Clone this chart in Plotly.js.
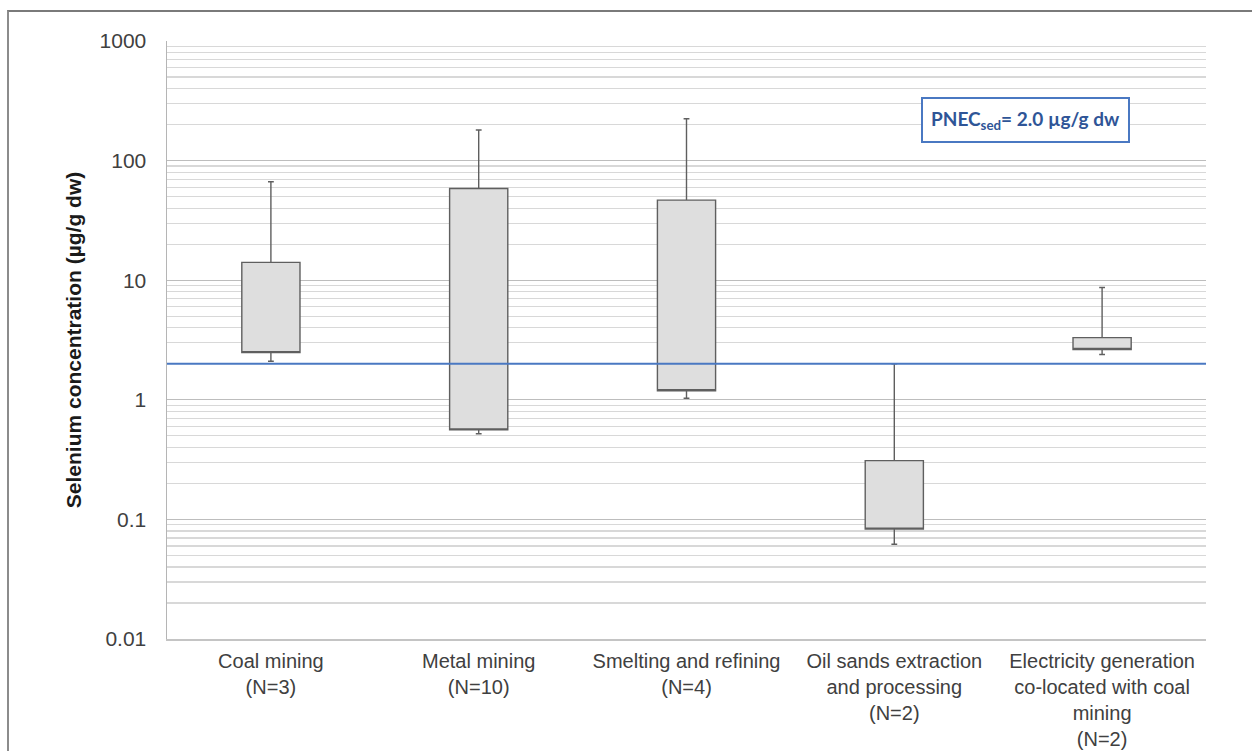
<!DOCTYPE html>
<html>
<head>
<meta charset="utf-8">
<script src="https://cdn.plot.ly/plotly-3.0.1.min.js"></script>
<style>
  html, body { margin: 0; padding: 0; background: #ffffff; }
  #chart { width: 1252px; height: 751px; }
  #frame { position: absolute; left: 7px; top: 10px; width: 1245px; height: 741px;
           border-left: 2px solid #8c8c8c; border-top: 2px solid #7a7a7a; pointer-events: none; box-sizing: border-box; }
</style>
</head>
<body>
<div id="chart"></div>
<div id="frame"></div>
<script>
// ---- Data ----
const categories = [
  'Coal mining<br>(N=3)',
  'Metal mining<br>(N=10)',
  'Smelting and refining<br>(N=4)',
  'Oil sands extraction<br>and processing<br>(N=2)',
  'Electricity generation<br>co-located with coal<br>mining<br>(N=2)'
];
const lowerWhisker = [2.1, 0.52, 1.03, 0.062, 2.39];
const q1Values     = [2.48, 0.56, 1.19, 0.083, 2.63];
const q3Values     = [14.1, 58.5, 46.7, 0.31, 3.31];
const upperWhisker = [66.5, 180, 224, 2.0, 8.7];

const pnecValue = 2.0;
const pnecLabel = '<b>PNEC<sub>sed</sub>= 2.0 µg/g dw</b>';

const yTickValues = [0.01, 0.1, 1, 10, 100, 1000];
const yTickLabels = ['0.01', '0.1', '1', '10', '100', '1000'];
const yAxisTitle = 'Selenium concentration (µg/g dw)';

// ---- Traces ----
const boxTrace = {
  type: 'box',
  x: categories,
  q1: q1Values,
  median: q1Values,
  q3: q3Values,
  lowerfence: lowerWhisker,
  upperfence: upperWhisker,
  boxpoints: false,
  whiskerwidth: 0.1,
  fillcolor: '#dedede',
  line: { color: '#5f5f5f', width: 1.4 },
  hoverinfo: 'skip',
  showlegend: false
};

const layout = {
  width: 1252,
  height: 751,
  margin: { l: 167, r: 46, t: 41, b: 112 },
  paper_bgcolor: '#ffffff',
  plot_bgcolor: '#ffffff',
  boxgap: 0.6,
  showlegend: false,
  font: { family: 'Liberation Sans, Arial, sans-serif', color: '#404040' },
  xaxis: {
    type: 'category',
    showgrid: false,
    zeroline: false,
    showline: true,
    linecolor: '#c4c4c4',
    linewidth: 1.5,
    ticks: '',
    ticklabelstandoff: 3,
    tickfont: { size: 20, color: '#404040' },
    fixedrange: true
  },
  yaxis: {
    type: 'log',
    range: [-2, 3],
    tickvals: yTickValues,
    ticktext: yTickLabels,
    tickfont: { size: 21, color: '#404040' },
    ticks: '',
    ticklabelstandoff: 15,
    showline: true,
    linecolor: '#b5b5b5',
    linewidth: 1.5,
    showgrid: true,
    gridcolor: '#bdbdbd',
    gridwidth: 1.2,
    zeroline: false,
    minor: { dtick: 'D1', showgrid: true, gridcolor: '#d8d8d8', gridwidth: 1.2, ticks: '' },
    title: { text: '<b>' + yAxisTitle + '</b>', font: { size: 21, color: '#1a1a1a' }, standoff: 12 },
    fixedrange: true
  },
  shapes: [{
    type: 'line',
    xref: 'paper', yref: 'y',
    x0: 0, x1: 1,
    y0: pnecValue, y1: pnecValue,
    line: { color: '#4a78c2', width: 2 },
    layer: 'above'
  }],
  annotations: [{
    xref: 'paper', yref: 'paper',
    x: 0.826, y: 0.868,
    xanchor: 'center', yanchor: 'middle',
    text: pnecLabel,
    showarrow: false,
    font: { family: 'Lato, Open Sans, sans-serif', size: 19, color: '#2f5597' },
    bgcolor: '#ffffff',
    bordercolor: '#4a78c2',
    borderwidth: 2,
    borderpad: 8
  }]
};

Plotly.newPlot('chart', [boxTrace], layout, { displayModeBar: false, staticPlot: true });
</script>
</body>
</html>
